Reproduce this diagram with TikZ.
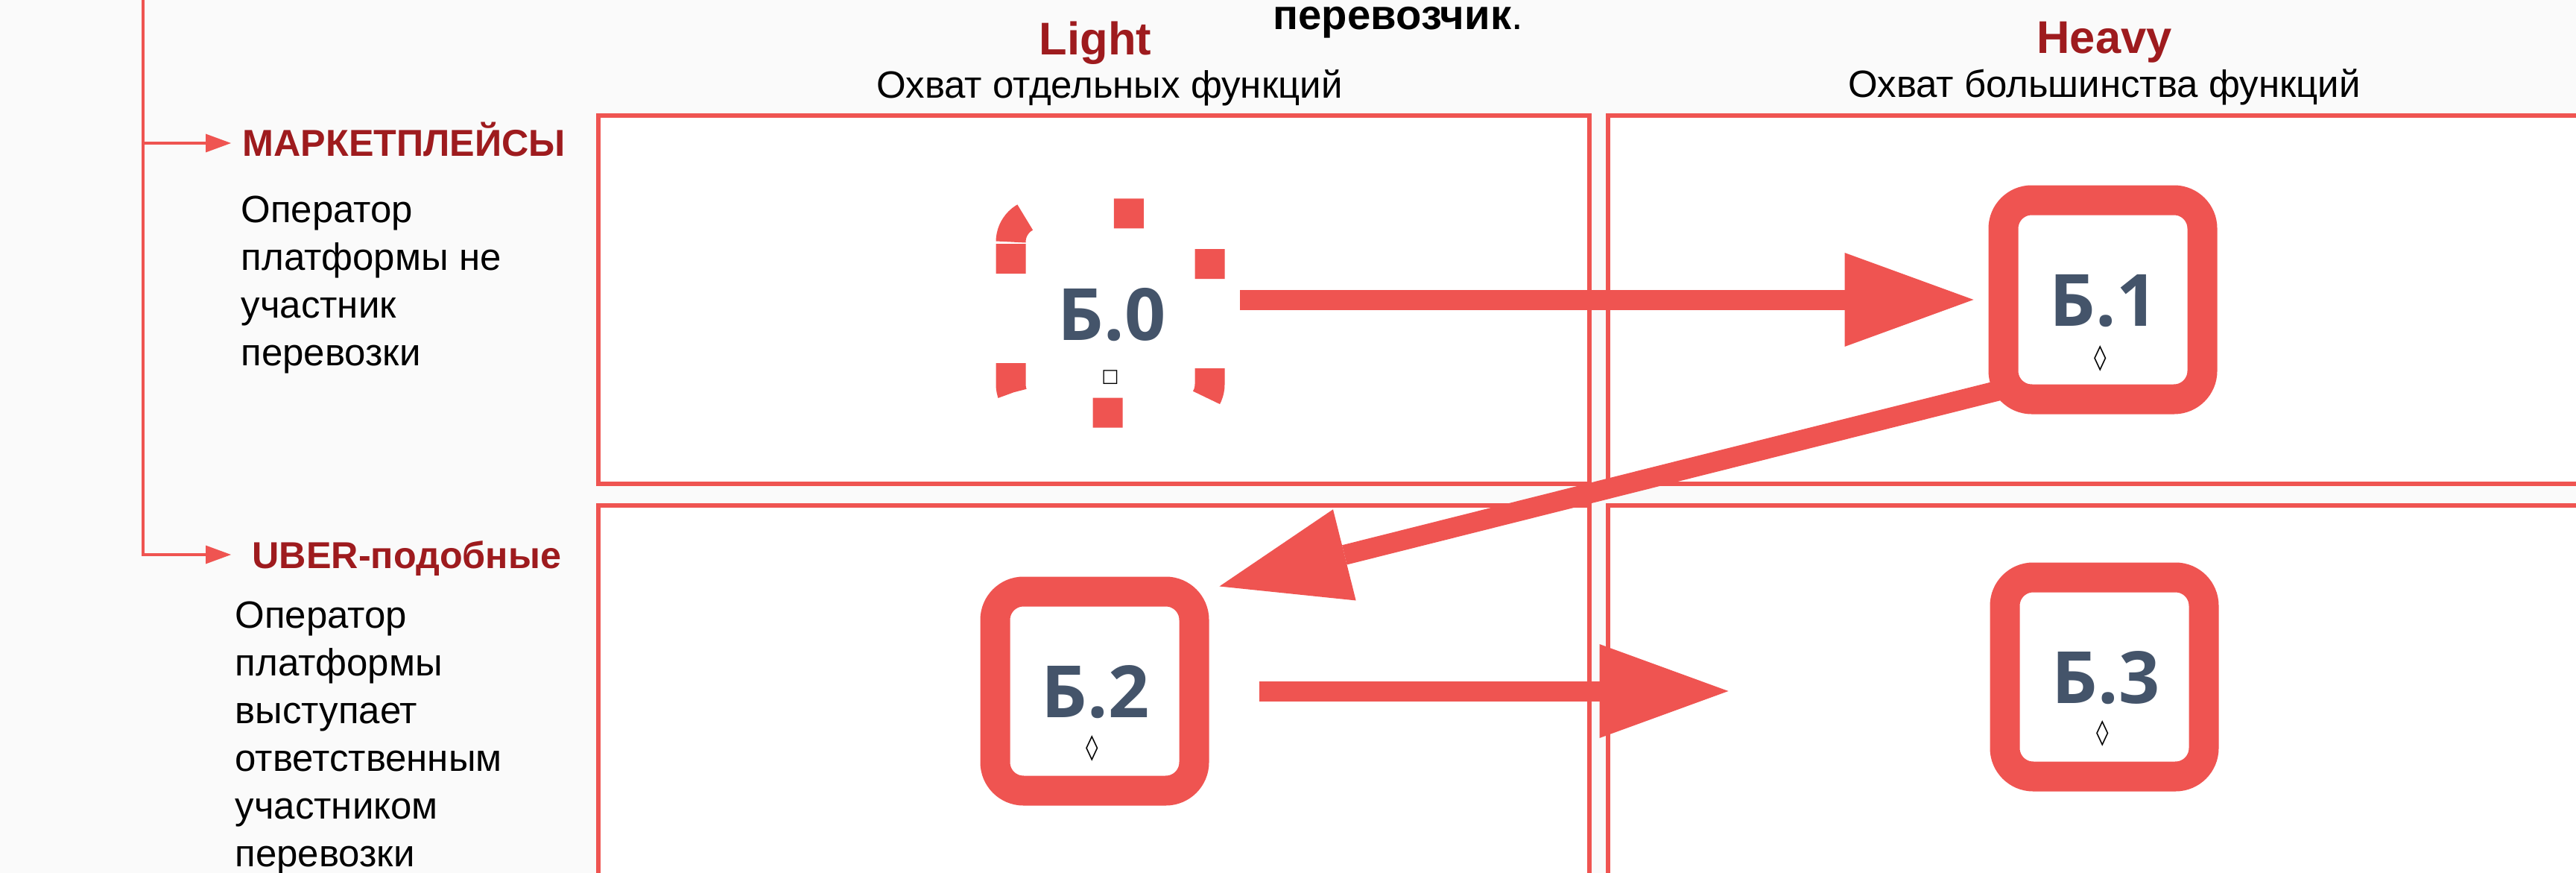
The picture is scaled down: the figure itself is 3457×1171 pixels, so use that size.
\documentclass[tikz,border=0pt]{standalone}
\usepackage{fontspec}
\setmainfont{Liberation Sans}
\newfontfamily\labfont{Open Sans}
\newfontfamily\symfont{DejaVu Sans}
\usetikzlibrary{arrows.meta,calc,backgrounds}
\definecolor{sqred}{RGB}{239,84,81}
\definecolor{darkred}{RGB}{158,27,30}
\definecolor{slate}{RGB}{68,84,106}
\definecolor{paper}{RGB}{250,250,250}

\begin{document}
\begin{tikzpicture}[x=0.1mm, y=0.1mm,
  every node/.style={inner sep=0pt},
  cell/.style={draw=sqred, line width=0.55mm, fill=white},
  sq/.style={draw=sqred, line width=4mm, fill=white, rounded corners=3.8mm, minimum size=26.7mm},
  sqdash/.style={draw=sqred, line width=4mm, dash pattern=on 4mm off 12mm},
  sqlab/.style={text=slate, font=\labfont\bfseries\fontsize{27.5}{30}\selectfont, anchor=base},
  glyph/.style={font=\symfont\fontsize{9.5}{10}\selectfont},
  headtxt/.style={text=darkred, font=\bfseries\fontsize{17.5}{20}\selectfont, anchor=base},
  subtxt/.style={font=\fontsize{14.5}{17}\selectfont, anchor=base},
  cat/.style={text=darkred, font=\bfseries\fontsize{14.3}{17}\selectfont, text height=3.6mm, text depth=0pt, inner xsep=1.5mm, anchor=west},
  desc/.style={font=\fontsize{14.5}{18.2}\selectfont, align=left, anchor=north west},
  bigarrow/.style={draw=sqred, line width=2.7mm, -{Triangle[length=17.3mm, width=12.6mm, line width=0pt]}},
  thinarrow/.style={draw=sqred, line width=0.35mm, -{Triangle[length=3.4mm, width=2.5mm, line width=0pt]}}
]
\useasboundingbox (0,0) rectangle (3457,-1171);

% column heads
\node[font=\fontsize{16}{18}\selectfont, anchor=base west] (carrier) at (1708,-40) {\textbf{перевозчик}.};
\node[headtxt] (light) at (1470,-74) {Light};
\node[subtxt] (lightsub) at (1489,-132) {Охват отдельных функций};
\node[headtxt] (heavy) at (2824,-72) {Heavy};
\node[subtxt] (heavysub) at (2824,-131) {Охват большинства функций};

% row heads
\coordinate (trunk) at (192,0);
\node[cat] (mkt) at (310,-192) {МАРКЕТПЛЕЙСЫ};
\node[desc] (mktdesc) at (323,-262) {Оператор\\платформы не\\участник\\перевозки};
\node[cat, inner xsep=2.8mm] (uber) at (310,-744) {UBER-подобные};
\node[desc] (uberdesc) at (315,-806) {Оператор\\платформы\\выступает\\ответственным\\участником\\перевозки};

% models
\node[minimum size=30.7mm] (b0) at (1490,-420) {};
\draw[sqdash] (1356.5,-324.5) arc[start angle=180, end angle=90, radius=3.8mm] -- (1585.5,-286.5)
  arc[start angle=90, end angle=0, radius=3.8mm] -- (1623.5,-515.5)
  arc[start angle=0, end angle=-90, radius=3.8mm] -- (1394.5,-553.5)
  arc[start angle=-90, end angle=-180, radius=3.8mm] -- cycle;
\node[sq] (b1) at (2822,-402) {};
\node[sq] (b2) at (1469,-927) {};
\node[sq] (b3) at (2824,-908) {};

\node[sqlab] (l0) at (1492,-456) {Б.0};
\node[sqlab] (l1) at (2823,-437) {Б.1};
\node[sqlab] (l2) at (1470,-962) {Б.2};
\node[sqlab] (l3) at (2826,-943) {Б.3};
\node[glyph, font=\symfont\fontsize{7}{8}\selectfont] (g0) at (1490,-506) {□};
\node[glyph] (g1) at (2819,-481) {◊};
\node[glyph] (g2) at (1466,-1004) {◊};
\node[glyph] (g3) at (2822,-984) {◊};

\begin{scope}[on background layer]
\fill[paper] (0,0) rectangle (3457,-1171);
\draw[cell] (803,-155) rectangle (2133,-649);
\draw[cell] (2158,-155) rectangle (3480,-649);
\draw[cell] (803,-678) rectangle (2133,-1190);
\draw[cell] (2158,-678) rectangle (3480,-1190);

\draw[thinarrow] (trunk |- mkt) -- (mkt.west);
\draw[thinarrow] (trunk) |- (uber.west);

\draw[bigarrow] ($(b0.east |- b1)+(20,0)$) -- ($(b1.west)+(-20,0)$);
\draw[bigarrow] ($(b1.south west)+(31,36)$) -- ($(b2.north east)+(14,-13)$);
\draw[bigarrow] ($(b2.east)+(67,0)$) -- ($(b3.west |- b2)+(-351,0)$);
\end{scope}
\end{tikzpicture}
\end{document}
